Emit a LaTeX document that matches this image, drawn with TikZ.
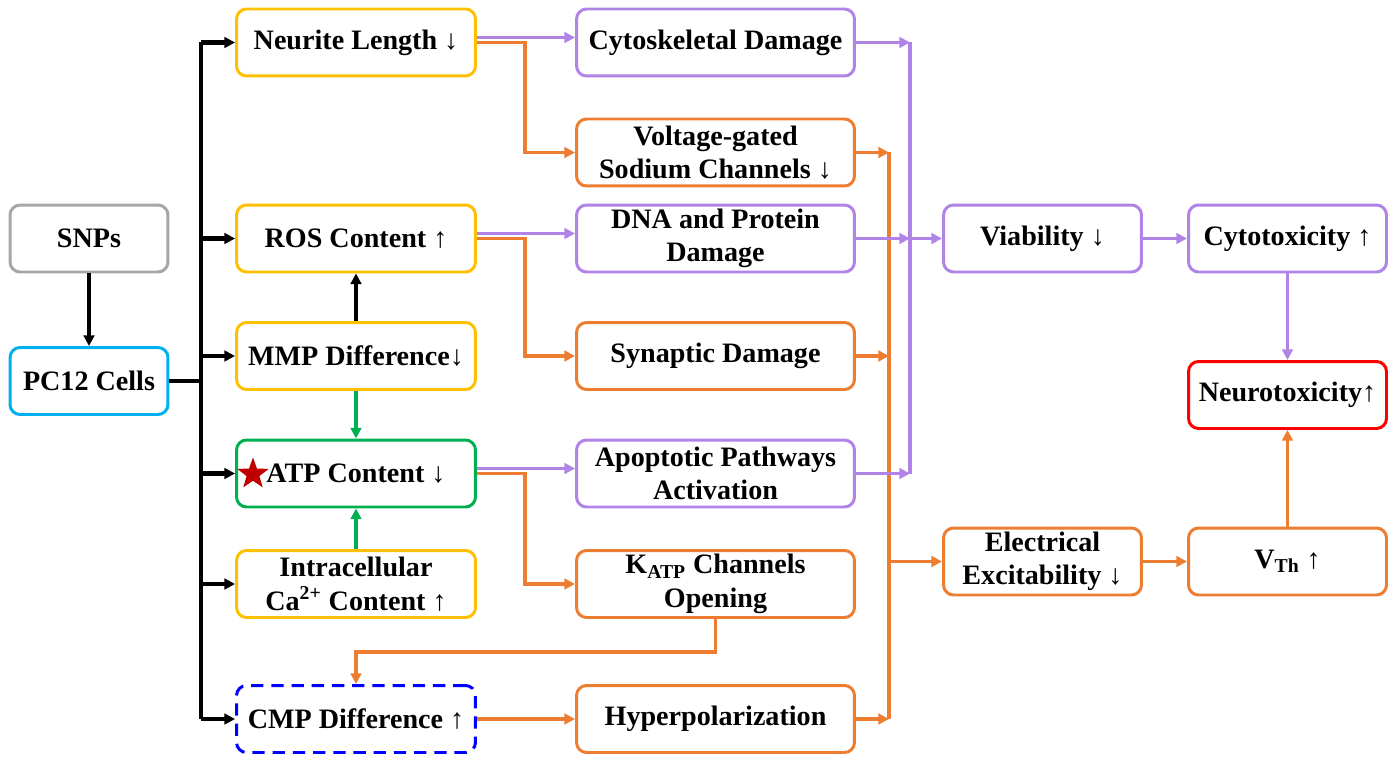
\documentclass[tikz,border=0pt]{standalone}
\usepackage{fontspec}
\setmainfont{Liberation Serif}
\usetikzlibrary{arrows.meta,calc,shapes.geometric}
\definecolor{cgold}{RGB}{255,192,0}
\definecolor{cblue}{RGB}{0,176,240}
\definecolor{cgray}{RGB}{166,166,166}
\definecolor{cpur}{RGB}{176,132,230}
\definecolor{cora}{RGB}{237,125,49}
\definecolor{cgreen}{RGB}{0,176,80}
\definecolor{cred}{RGB}{255,0,0}
\definecolor{cdblue}{RGB}{0,0,255}
\definecolor{cstar}{RGB}{192,0,0}
\begin{document}
\begin{tikzpicture}[x=0.02cm,y=-0.02cm,
  font=\fontsize{16}{19}\selectfont\bfseries,
  box/.style={draw=#1, line width=1.7pt, rounded corners=0.2cm, fill=white,
    align=center, inner sep=0pt, minimum height=1.34cm},
  wa/.style={minimum width=3.16cm},
  wb/.style={minimum width=4.78cm},
  wc/.style={minimum width=5.56cm},
  wd/.style={minimum width=3.96cm},
  tip/.style={-{Triangle[length=6pt,width=6pt]}},
  blk/.style={draw=black, line width=2.4pt},
  pur/.style={draw=cpur, line width=2.1pt},
  ora/.style={draw=cora, line width=2.1pt},
  grn/.style={draw=cgreen, line width=2.1pt}
]
\useasboundingbox (0,0) rectangle (1397,757);

% column 1
\node[box=cgray, wa] (SNPs) at (89,238.5) {SNPs};
\node[box=cblue, wa] (PC12) at (89,381) {PC12 Cells};

% column 2
\node[box=cgold, wb] (Neurite) at (356,42.5) {Neurite Length ↓};
\node[box=cgold, wb] (ROS) at (356,238.5) {ROS Content ↑};
\node[box=cgold, wb] (MMP) at (356,356) {MMP Difference↓};
\node[box=cgreen, wb] (ATP) at (356,473.5) {ATP Content ↓};
\node[box=cgold, wb] (Ca) at (356,584) {Intracellular\\Ca\textsuperscript{2+} Content ↑};
\node[box=cdblue, wb, dash pattern=on 7pt off 4.5pt] (CMP) at (356,719) {CMP Difference ↑};
\node[star, star points=5, star point ratio=2.45, fill=cstar, inner sep=0pt, minimum size=0.66cm] (Star) at (253,474) {};

% column 3
\node[box=cpur, wc] (Cyto) at (715.5,42.5) {Cytoskeletal Damage};
\node[box=cora, wc] (Volt) at (715.5,152.5) {Voltage-gated\\Sodium Channels ↓};
\node[box=cpur, wc] (DNA) at (715.5,238.5) {DNA and Protein\\Damage};
\node[box=cora, wc] (Syn) at (715.5,356) {Synaptic Damage};
\node[box=cpur, wc] (Apop) at (715.5,473.5) {Apoptotic Pathways\\Activation};
\node[box=cora, wc] (KATP) at (715.5,584) {K\textsubscript{ATP} Channels\\Opening};
\node[box=cora, wc] (Hyper) at (715.5,719) {Hyperpolarization};

% right columns
\node[box=cpur, wd] (Via) at (1042.5,238.5) {Viability ↓};
\node[box=cpur, wd] (Cytox) at (1287.5,238.5) {Cytotoxicity ↑};
\node[box=cred, wd] (Neurox) at (1287.5,395) {Neurotoxicity↑};
\node[box=cora, wd] (Elec) at (1042.5,561.5) {Electrical\\Excitability ↓};
\node[box=cora, wd] (VTh) at (1287.5,561.5) {V\textsubscript{Th} ↑};

% bus coordinates
\coordinate (tr) at (201,0);
\coordinate (ob) at (525,0);
\coordinate (pb) at (910,0);
\coordinate (rb) at (889,0);
\coordinate (kb) at (0,652);

% black trunk
\draw[blk] (Neurite.west -| tr) -- (CMP.west -| tr);
\draw[blk] (PC12.east) -- (PC12.east -| tr);
\foreach \n in {Neurite,ROS,MMP,ATP,Ca,CMP}
  \draw[blk,tip] (\n.west -| tr) -- (\n.west);
\draw[blk,tip] (SNPs.south) -- (PC12.north);
\draw[blk,tip] (MMP.north) -- (ROS.south);
\draw[grn,tip] (MMP.south) -- (ATP.north);
\draw[grn,tip] (Ca.north) -- (ATP.south);

% column 2 -> column 3
\draw[ora,tip] (Neurite.east) -- (Neurite.east -| ob) |- (Volt.west);
\draw[pur,tip] ($(Neurite.east)+(0,-5)$) -- ($(Cyto.west)+(0,-5)$);
\draw[ora,tip] (ROS.east) -- (ROS.east -| ob) |- (Syn.west);
\draw[pur,tip] ($(ROS.east)+(0,-5)$) -- ($(DNA.west)+(0,-5)$);
\draw[ora,tip] (ATP.east) -- (ATP.east -| ob) |- (KATP.west);
\draw[pur,tip] ($(ATP.east)+(0,-5)$) -- ($(Apop.west)+(0,-5)$);
\draw[ora,tip] (CMP.east) -- (Hyper.west);
\draw[ora,tip] (KATP.south) -- (KATP.south |- kb) -| (CMP.north);

% orange bus
\draw[ora] (Volt.east -| rb) -- (Hyper.east -| rb);
\foreach \n in {Volt,Syn,Hyper}
  \draw[ora,tip] (\n.east) -- (\n.east -| rb);
\draw[ora,tip] (Elec.west -| rb) -- (Elec.west);

% purple bus
\draw[pur] (Cyto.east -| pb) -- (Apop.east -| pb);
\foreach \n in {Cyto,DNA,Apop}
  \draw[pur,tip] (\n.east) -- (\n.east -| pb);
\draw[pur,tip] (DNA.east -| pb) -- (Via.west);

% right part
\draw[pur,tip] (Via.east) -- (Cytox.west);
\draw[pur,tip] (Cytox.south) -- (Neurox.north);
\draw[ora,tip] (Elec.east) -- (VTh.west);
\draw[ora,tip] (VTh.north) -- (Neurox.south);
\end{tikzpicture}
\end{document}
